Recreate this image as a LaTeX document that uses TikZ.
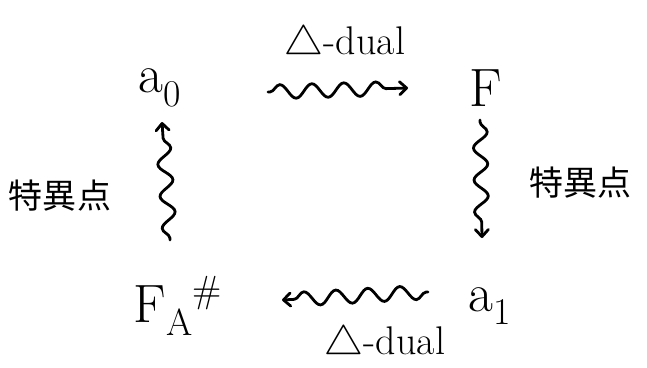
\documentclass[tikz,border=0pt]{standalone}
\usepackage{fontspec}
\usepackage{unicode-math}
\setmathfont{Latin Modern Math}
\newfontfamily\cjk{Noto Sans CJK JP}
\usetikzlibrary{decorations.pathmorphing,arrows.meta}
\begin{document}
\begin{tikzpicture}[x=1pt,y=-1pt,
  obj/.style={inner sep=0pt,font=\fontsize{54}{56}\selectfont},
  lab/.style={inner sep=0pt,font=\fontsize{40}{42}\selectfont},
  cjklab/.style={inner sep=0pt,font=\cjk\fontsize{34}{36}\selectfont},
  squig/.style={line width=2.8pt,line cap=round,-{Straight Barb[length=7pt,width=13pt,round]},
    decorate,decoration={snake,amplitude=7pt,segment length=32pt,post length=8pt,pre length=2pt}}]
\useasboundingbox (0,0) rectangle (647,367);
\node[obj] (g0) at (160,88) {a\textsubscript{0}};
\node[obj] (f) at (486,88) {F};
\node[obj] (fa) at (178,306) {F\textsubscript{A}\textsuperscript{\#}};
\node[obj] (a1) at (490,306) {a\textsubscript{1}};
\coordinate (t1) at (268,92);
\coordinate (t2) at (408,88);
\draw[squig] (t1) -- (t2);
\node[lab] (td) at (345,40) {$\triangle$-dual};
\coordinate (r1) at (480,120);
\coordinate (r2) at (482,238);
\draw[squig] (r1) -- (r2);
\node[cjklab] (rl) at (580,183) {特異点};
\coordinate (l1) at (170,240);
\coordinate (l2) at (162,122);
\draw[squig] (l1) -- (l2);
\node[cjklab] (ll) at (60,196) {特異点};
\coordinate (b1) at (428,292);
\coordinate (b2) at (282,300);
\draw[squig] (b1) -- (b2);
\node[lab] (bd) at (385,340) {$\triangle$-dual};
\end{tikzpicture}
\end{document}
